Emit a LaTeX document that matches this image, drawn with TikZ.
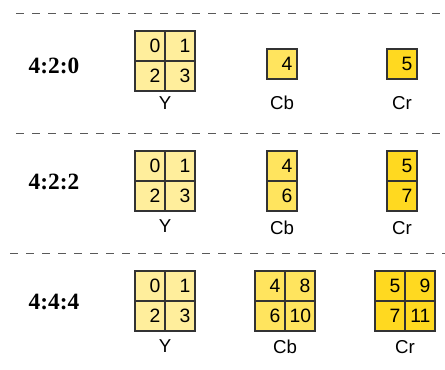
\documentclass[tikz,border=0pt]{standalone}
\usepackage{fontspec}
\setmainfont{Liberation Serif}
\newfontfamily\arialfont{Liberation Sans}
\usepackage{tikz}
\definecolor{lumacol}{HTML}{FFEE9C}
\definecolor{cbcol}{HTML}{FFE45E}
\definecolor{crcol}{HTML}{FFD920}
\definecolor{cellline}{HTML}{333333}
\tikzset{
	cell/.style={draw=cellline, line width=0.8pt, minimum width=22.5pt, minimum height=22.5pt,
		inner xsep=3.5pt, text width=15.5pt, align=right, font=\arialfont\fontsize{14.5}{14.5}\selectfont},
	ycell/.style={cell, fill=lumacol},
	cbcell/.style={cell, fill=cbcol},
	crcell/.style={cell, fill=crcol},
	plane/.style={font=\arialfont\fontsize{14}{14}\selectfont},
	fmt/.style={font=\bfseries\fontsize{17.5}{17.5}\selectfont},
	sep/.style={draw=black!65, line width=0.7pt, dash pattern=on 6pt off 6pt}
}

\begin{document}
\begin{tikzpicture}[x=0.75pt, y=-0.75pt]
		\useasboundingbox (0,0) rectangle (445,369);
		% separators
		\draw[sep] (16,13) -- (445,13);
		\draw[sep] (16,133) -- (445,133);
		\draw[sep] (10,253) -- (445,253);
		% 4:2:0
		\node[fmt] (f420) at (54,66) {4:2:0};
		\node[ycell] (a0) at (150,46) {0};
		\node[ycell] (a1) at (180,46) {1};
		\node[ycell] (a2) at (150,76) {2};
		\node[ycell] (a3) at (180,76) {3};
		\node[cbcell] (a4) at (282,64) {4};
		\node[crcell] (a5) at (402,64) {5};
		\node[plane] (ay) at (165,103) {Y};
		\node[plane] (acb) at (282,103) {Cb};
		\node[plane] (acr) at (402,103) {Cr};
		% 4:2:2
		\node[fmt] (f422) at (54,182) {4:2:2};
		\node[ycell] (b0) at (150,166) {0};
		\node[ycell] (b1) at (180,166) {1};
		\node[ycell] (b2) at (150,196) {2};
		\node[ycell] (b3) at (180,196) {3};
		\node[cbcell] (b4) at (282,166) {4};
		\node[cbcell] (b6) at (282,196) {6};
		\node[crcell] (b5) at (402,166) {5};
		\node[crcell] (b7) at (402,196) {7};
		\node[plane] (by) at (165,226) {Y};
		\node[plane] (bcb) at (282,228) {Cb};
		\node[plane] (bcr) at (402,228) {Cr};
		% 4:4:4
		\node[fmt] (f444) at (54,302) {4:4:4};
		\node[ycell] (c0) at (150,286) {0};
		\node[ycell] (c1) at (180,286) {1};
		\node[ycell] (c2) at (150,316) {2};
		\node[ycell] (c3) at (180,316) {3};
		\node[cbcell] (c4) at (270,286) {4};
		\node[cbcell] (c8) at (300,286) {8};
		\node[cbcell] (c6) at (270,316) {6};
		\node[cbcell] (c10) at (300,316) {10};
		\node[crcell] (c5) at (390,286) {5};
		\node[crcell] (c9) at (420,286) {9};
		\node[crcell] (c7) at (390,316) {7};
		\node[crcell] (c11) at (420,316) {11};
		\node[plane] (cy) at (165,346) {Y};
		\node[plane] (ccb) at (285,347) {Cb};
		\node[plane] (ccr) at (405,347) {Cr};
	\end{tikzpicture}
\end{document}
